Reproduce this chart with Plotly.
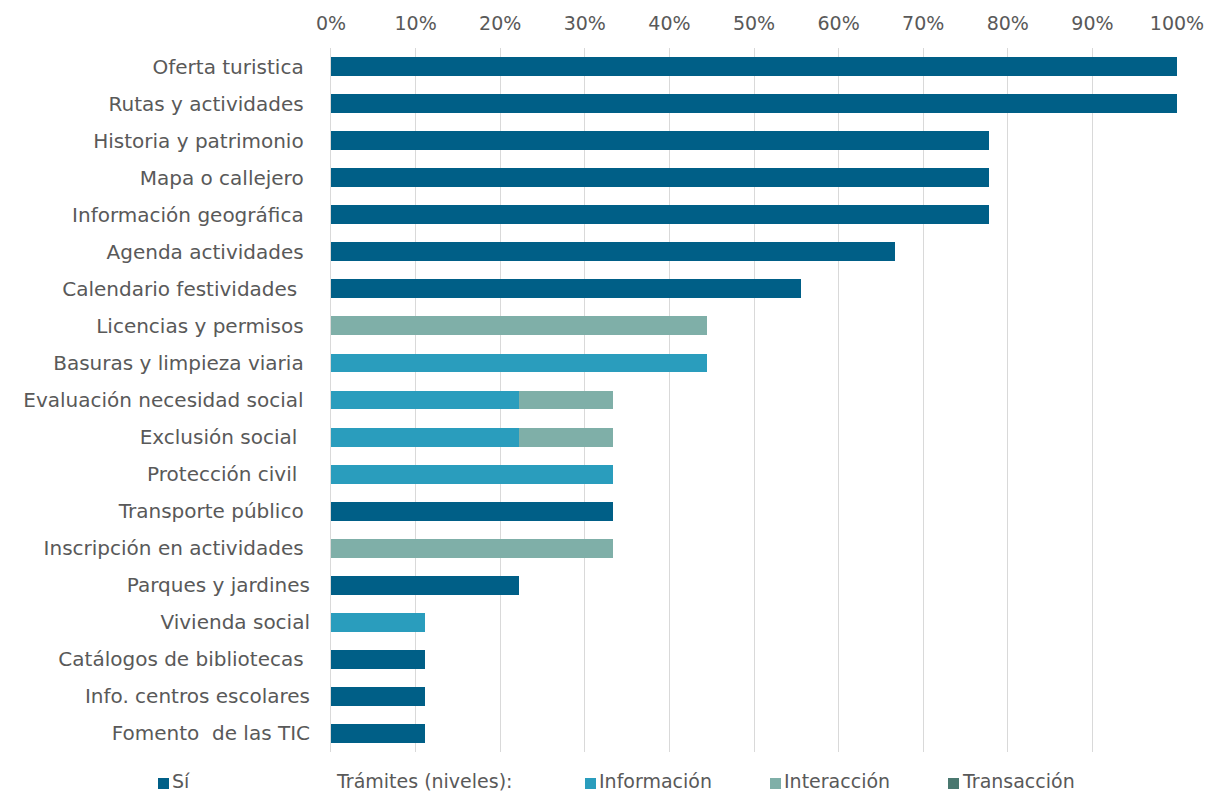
import plotly.graph_objects as go

categories = ["Oferta turistica", "Rutas y actividades", "Historia y patrimonio", "Mapa o callejero",
              "Información geográfica", "Agenda actividades", "Calendario festividades",
              "Licencias y permisos", "Basuras y limpieza viaria", "Evaluación necesidad social",
              "Exclusión social", "Protección civil", "Transporte público",
              "Inscripción en actividades", "Parques y jardines", "Vivienda social",
              "Catálogos de bibliotecas", "Info. centros escolares", "Fomento\u00a0 de las TIC"]
# trailing spaces per label, as in the source labels
pad = [1, 1, 1, 1, 1, 1, 2, 1, 1, 1, 2, 2, 1, 1, 0, 0, 1, 0, 0]

si = [1.0, 1.0, 0.778, 0.778, 0.778, 0.667, 0.556, 0, 0, 0, 0, 0, 0.333, 0, 0.222, 0, 0.111, 0.111, 0.111]
informacion = [0, 0, 0, 0, 0, 0, 0, 0, 0.444, 0.222, 0.222, 0.333, 0, 0, 0, 0.111, 0, 0, 0]
interaccion = [0, 0, 0, 0, 0, 0, 0, 0.444, 0, 0.111, 0.111, 0, 0, 0.333, 0, 0, 0, 0, 0]
transaccion = [0] * 19

labels = [c + "\u00a0" * p for c, p in zip(categories, pad)]

series = [("Sí", si, "#005F87"), ("Información", informacion, "#2A9DBD"),
          ("Interacción", interaccion, "#7FAFA8"), ("Transacción", transaccion, "#4A7870")]

fig = go.Figure()
for name, vals, col in series:
    fig.add_trace(go.Bar(y=labels, x=vals, name=name, orientation="h",
                         marker=dict(color=col, line=dict(width=0)), showlegend=False))

font = "DejaVu Sans, Verdana, sans-serif"
fig.update_layout(
    width=1206, height=794, barmode="stack", bargap=0.49,
    margin=dict(l=331, r=29, t=48, b=42, autoexpand=False),
    paper_bgcolor="white", plot_bgcolor="white",
    font=dict(family=font, size=20, color="#595959"),
    xaxis=dict(side="top", range=[0, 1], dtick=0.1, tickformat=".0%", showgrid=True,
               gridcolor="#d9d9d9", gridwidth=1, zeroline=False, showline=False, automargin=False,
               tickfont=dict(size=19, color="#595959"), ticks="", ticklabelstandoff=13, fixedrange=True),
    yaxis=dict(autorange="reversed", showgrid=False, showline=True, linecolor="#d9d9d9", automargin=False,
               ticks="", ticklabelstandoff=16, tickfont=dict(size=20, color="#595959"), fixedrange=True),
)

# custom legend row
legend_items = [(158, "Sí", "#005F87"), (335, "Trámites (niveles):", None),
                (585, "Información", "#2A9DBD"), (770, "Interacción", "#7FAFA8"),
                (948, "Transacción", "#4A7870")]
ly = 781
for x0, txt, col in legend_items:
    if col:
        fig.add_shape(type="rect", xref="paper", yref="paper",
                      x0=(x0 - 331) / 846, x1=(x0 + 11 - 331) / 846,
                      y0=(794 - 42 - (ly + 8)) / 704, y1=(794 - 42 - (ly - 3)) / 704,
                      fillcolor=col, line=dict(width=0))
        tx = x0 + 13
    else:
        tx = x0
    fig.add_annotation(xref="paper", yref="paper", x=(tx - 331) / 846, y=(794 - 42 - ly) / 704,
                       text=txt, showarrow=False, xanchor="left", yanchor="middle", borderpad=0,
                       font=dict(size=19, color="#595959", family=font))

fig.write_html("out.html")
